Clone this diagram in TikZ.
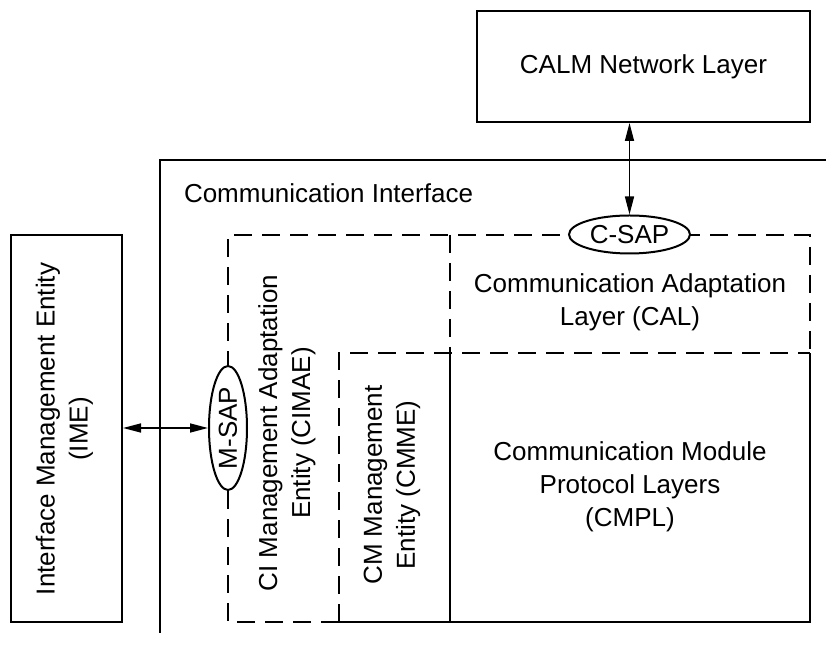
\documentclass[tikz,border=0pt]{standalone}
\usepackage{fontspec}
\setmainfont{Liberation Sans}
\usetikzlibrary{arrows.meta,shapes.geometric}
\begin{document}
\begin{tikzpicture}[x=0.5pt,y=-0.5pt,
  line width=1pt,
  every node/.style={font=\fontsize{13pt}{16.5pt}\selectfont, align=center, inner sep=0pt},
  boxnode/.style={draw, line width=1pt},
  dsh/.style={dash pattern=on 9pt off 5pt},
  sap/.style={draw, ellipse, fill=white, inner sep=0pt, line width=1pt},
  arr/.style={{Triangle[length=9pt,width=4.5pt]}-{Triangle[length=9pt,width=4.5pt]}, line width=0.75pt}
]
\useasboundingbox (0,0) rectangle (826,646);

% Communication Interface (open frame)
\draw (160,633) -- (160,160) -- (826,160);
\node[anchor=base west] (ci) at (183,203) {Communication Interface};

% dashed outlines
\draw[dsh] (339,622) -- (228,622) -- (228,235) -- (810,235) -- (810,353);
\draw[dsh] (450,235) -- (450,353);
\draw[dsh] (339,622) -- (339,353) -- (810,353);
% solid outlines (CMPL, CMME bottom)
\draw (339,622) -- (810,622) -- (810,353);
\draw (450,353) -- (450,622);

% texts
\node (cal) at (630,302) {Communication Adaptation\\Layer (CAL)};
\node (cmpl) at (630,487) {Communication Module\\Protocol Layers\\(CMPL)};
\node[rotate=90] (cimae) at (287,433) {CI Management Adaptation\\Entity (CIMAE)};
\node[rotate=90] (cmme) at (392,485) {CM Management\\Entity (CMME)};

% CALM box
\node[boxnode, minimum width=166.5pt, minimum height=55.5pt] (calm) at (643.5,66.5) {CALM Network Layer};

% IME box
\node[boxnode, minimum width=55.5pt, minimum height=193.5pt] (ime) at (66.5,428.5) {};
\node[rotate=90] (imetext) at (64.5,429) {Interface Management Entity\\(IME)};

% SAP ellipses
\node[sap, minimum width=60.5pt, minimum height=19pt] (csap) at (629.5,234.5) {C-SAP};
\node[sap, minimum width=19pt, minimum height=62pt] (msap) at (228,428) {\rotatebox{90}{M-SAP}};

% connectors
\draw[arr] (csap.north |- calm.south) -- (csap.north);
\draw[arr] (ime.east |- msap.west) -- (msap.west);
\end{tikzpicture}
\end{document}
